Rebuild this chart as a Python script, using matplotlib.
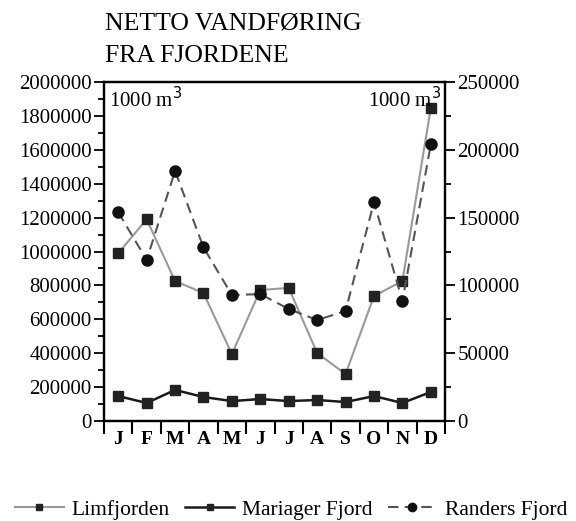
import numpy as np
import matplotlib.pyplot as plt
from matplotlib.ticker import MultipleLocator, ScalarFormatter

plt.rcParams['font.family'] = ['Liberation Serif', 'DejaVu Serif']

months = ['J', 'F', 'M', 'A', 'M', 'J', 'J', 'A', 'S', 'O', 'N', 'D']

# 1000 m3, Limfjorden on left axis, the two others on right axis
limfjorden = [990000, 1190000, 826000, 755000, 395000, 773000, 785000, 401000, 277000, 737000, 826000, 1847000]
mariager = [18400, 13300, 22900, 17700, 14700, 16200, 14700, 15500, 14000, 18400, 13300, 21400]
randers = [154000, 118800, 184400, 128000, 92900, 93600, 82600, 74500, 81100, 161500, 88500, 204000]

x = np.arange(len(months)) + 0.5

fig = plt.figure(figsize=(5.76, 5.21), dpi=100)
ax = fig.add_axes([0.1806, 0.1919, 0.592, 0.6507])
ax2 = ax.twinx()

ax.plot(x, limfjorden, color='#999999', lw=1.5, marker='s', ms=6.5,
        mfc='#222222', mec='#222222', label='Limfjorden')
ax2.plot(x, mariager, color='#1a1a1a', lw=1.8, marker='s', ms=6.5,
         mfc='#222222', mec='#222222', label='Mariager Fjord')
ax2.plot(x, randers, color='#555555', lw=1.5, ls=(0, (5, 3)), marker='o', ms=8,
         mfc='#111111', mec='#111111', label='Randers Fjord')

ax.set_xlim(0, 12)
ax.set_ylim(0, 2000000)
ax2.set_ylim(0, 250000)

fmt = ScalarFormatter()
fmt.set_scientific(False)
fmt.set_useOffset(False)
ax.yaxis.set_major_formatter(fmt)
ax.yaxis.set_major_locator(MultipleLocator(200000))
ax.yaxis.set_minor_locator(MultipleLocator(100000))
ax2.yaxis.set_major_locator(MultipleLocator(50000))
ax2.yaxis.set_minor_locator(MultipleLocator(25000))

ax.set_xticks(np.arange(13))
ax.set_xticklabels([])
ax.set_xticks(x, minor=True)
ax.set_xticklabels(months, minor=True, fontsize=14, fontweight='bold')
ax.tick_params(axis='x', which='major', length=9, width=1.5, direction='out')
ax.tick_params(axis='x', which='minor', length=0, pad=7)

ax.tick_params(axis='y', which='major', length=7, width=1.3, labelsize=15, pad=2)
ax.tick_params(axis='y', which='minor', length=4, width=1.3)
ax2.tick_params(axis='y', which='major', length=7, width=1.3, labelsize=15, pad=2)
ax2.tick_params(axis='y', which='minor', length=4, width=1.3)

for a in (ax, ax2):
    for s in a.spines.values():
        s.set_linewidth(1.6)

ax.text(0.015, 0.985, '1000 m$^3$', transform=ax.transAxes, ha='left', va='top', fontsize=15)
ax.text(0.99, 0.985, '1000 m$^3$', transform=ax.transAxes, ha='right', va='top', fontsize=15)

fig.text(0.182, 0.976, 'NETTO VANDFØRING\nFRA FJORDENE', ha='left', va='top',
         fontsize=18.5, linespacing=1.6)

h1, l1 = ax.get_legend_handles_labels()
h2, l2 = ax2.get_legend_handles_labels()
fig.legend(h1 + h2, l1 + l2, loc='lower center', bbox_to_anchor=(0.505, -0.022), ncol=3,
           frameon=False, fontsize=15.5, handlelength=2.3, handletextpad=0.35,
           columnspacing=0.7, markerscale=0.75, borderaxespad=0.2)

fig.savefig('out.png', dpi=100)
